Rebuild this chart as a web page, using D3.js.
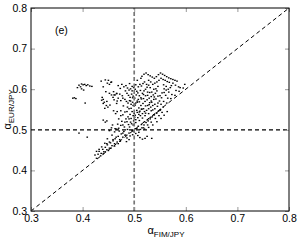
<!DOCTYPE html>
<html><head><meta charset="utf-8">
<script src="https://cdn.jsdelivr.net/npm/d3@7"></script>
<style>body{margin:0;background:#fff}svg{display:block}</style></head>
<body><svg id="c" width="299" height="240"></svg>
<script>
const xTicks=[0.3,0.4,0.5,0.6,0.7,0.8];
const yTicks=[0.3,0.4,0.5,0.6,0.7,0.8];
const xLabel="FIM/JPY";
const yLabel="EUR/JPY";
const panelLabel="(e)";
const refLevel=0.5;
// scatter points [alpha_FIM/JPY, alpha_EUR/JPY]
const groupLeft=[[0.381,0.578],[0.384,0.579],[0.387,0.577],[0.390,0.604],[0.393,0.610],[0.396,0.606],[0.398,0.613],[0.401,0.611],[0.404,0.612],[0.407,0.609],[0.410,0.611],[0.414,0.608],[0.418,0.607],[0.402,0.598],[0.405,0.566],[0.398,0.601],[0.393,0.492],[0.409,0.482]];
const groupB=[[0.440,0.606],[0.448,0.615],[0.456,0.618],[0.445,0.594],[0.452,0.590],[0.456,0.586],[0.460,0.594],[0.463,0.586],[0.466,0.590],[0.437,0.573],[0.440,0.565],[0.447,0.570],[0.453,0.561],[0.443,0.553],[0.469,0.578],[0.466,0.565],
[0.459,0.580],[0.461,0.586],[0.466,0.589],[0.472,0.588],[0.477,0.584],[0.478,0.578],[0.474,0.572],[0.467,0.571],[0.461,0.574],
[0.438,0.580],[0.440,0.575],[0.442,0.568],[0.446,0.560],[0.449,0.556],[0.450,0.622],[0.455,0.617],[0.452,0.612],[0.436,0.620],[0.444,0.623]];
const groupC=[[0.476,0.612],[0.480,0.606],[0.484,0.609],[0.487,0.603],[0.490,0.598],[0.493,0.601],[0.496,0.596],[0.499,0.604],[0.502,0.600],[0.505,0.595],[0.508,0.606],[0.511,0.612],[0.514,0.608],[0.517,0.614],[0.520,0.618],[0.486,0.590],[0.489,0.585],[0.492,0.580],[0.495,0.588],[0.498,0.583],[0.501,0.578],[0.504,0.586],[0.507,0.591],[0.510,0.584],[0.513,0.579],[0.516,0.590],[0.519,0.596],[0.522,0.600],[0.525,0.605],[0.528,0.610],[0.482,0.575],[0.485,0.570],[0.488,0.566],[0.491,0.572],[0.494,0.563],[0.497,0.568],[0.500,0.560],[0.503,0.566],[0.506,0.571]];
const groupD=[[0.515,0.632],[0.519,0.637],[0.523,0.640],[0.527,0.636],[0.531,0.633],[0.535,0.630],[0.539,0.627],[0.543,0.631],[0.547,0.636],[0.551,0.640],[0.555,0.637],[0.559,0.634],[0.563,0.631],[0.567,0.628],[0.571,0.626],[0.575,0.624],[0.579,0.622],[0.583,0.620],[0.552,0.627],[0.556,0.624],[0.560,0.622],[0.564,0.619],[0.568,0.617],[0.548,0.622],[0.544,0.618],[0.540,0.615],[0.536,0.612],[0.532,0.618],[0.528,0.622]];
const strand1=[[0.430,0.440],[0.432,0.447],[0.436,0.442],[0.439,0.452],[0.441,0.446],[0.444,0.457],[0.447,0.451],[0.448,0.463],[0.452,0.455],[0.454,0.468],[0.457,0.461],[0.459,0.473],[0.462,0.466],[0.463,0.478],[0.467,0.470],[0.469,0.484],[0.472,0.476],[0.475,0.490],[0.478,0.482],[0.480,0.496],[0.484,0.487],[0.487,0.501],[0.490,0.492],[0.491,0.507],[0.496,0.498],[0.498,0.512],[0.502,0.503],[0.503,0.518],[0.508,0.509],[0.510,0.523],[0.514,0.513],[0.516,0.529],[0.520,0.520],[0.521,0.535],[0.526,0.525],[0.528,0.540],[0.532,0.531],[0.533,0.547],[0.538,0.537],[0.540,0.552],[0.544,0.542],[0.545,0.558],[0.550,0.548],[0.552,0.563],[0.556,0.556],[0.557,0.570],[0.563,0.566],[0.565,0.578],[0.571,0.577],[0.573,0.587],[0.579,0.585],[0.581,0.597],[0.587,0.595],[0.589,0.604],[0.595,0.603],[0.598,0.612],
[0.432,0.452],[0.437,0.458],[0.440,0.441],[0.444,0.446],[0.447,0.466],[0.450,0.449],[0.452,0.470],[0.455,0.455],[0.459,0.476],[0.462,0.460],[0.465,0.482],[0.469,0.466],[0.427,0.447],[0.435,0.436],[0.424,0.438],[0.427,0.430]];
const strand2=[[0.462,0.495],[0.466,0.502],[0.470,0.504],[0.474,0.511],[0.478,0.512],[0.482,0.519],[0.486,0.520],[0.490,0.527],[0.494,0.528],[0.498,0.535],[0.502,0.536],[0.506,0.543],[0.510,0.544],[0.514,0.551],[0.518,0.552],[0.522,0.559],[0.526,0.560],[0.530,0.567],[0.534,0.568],[0.538,0.575],[0.542,0.576],[0.546,0.583],[0.550,0.584],[0.554,0.591],[0.558,0.592],[0.562,0.598],[0.566,0.600],[0.570,0.604]];
const strand3=[[0.470,0.527],[0.474,0.535],[0.478,0.537],[0.482,0.544],[0.486,0.545],[0.490,0.552],[0.494,0.553],[0.498,0.560],[0.502,0.561],[0.506,0.568],[0.510,0.569],[0.514,0.576],[0.518,0.577],[0.522,0.584],[0.526,0.585],[0.530,0.592],[0.534,0.593],[0.538,0.600],[0.542,0.601],[0.546,0.607]];
const blob=[[0.495,0.515],[0.499,0.522],[0.503,0.525],[0.507,0.530],[0.512,0.535],[0.516,0.540],[0.520,0.545],[0.524,0.548],[0.528,0.552],[0.532,0.556],[0.536,0.560],[0.540,0.563],[0.505,0.548],[0.509,0.554],[0.513,0.560],[0.517,0.565],[0.521,0.570],[0.525,0.574],[0.529,0.578],[0.533,0.582],[0.537,0.586],[0.541,0.590],[0.500,0.540],[0.496,0.545],[0.492,0.538],[0.488,0.532],[0.484,0.527],[0.515,0.505],[0.519,0.512],[0.523,0.518],[0.527,0.522],[0.531,0.527],[0.535,0.532],[0.539,0.537],[0.543,0.541],[0.547,0.546],[0.551,0.550],
[0.440,0.524],[0.444,0.519],[0.447,0.522],[0.460,0.547],[0.464,0.540],[0.467,0.545],[0.452,0.498],[0.456,0.505],[0.458,0.512]];
const scattered=[[0.487,0.556],[0.493,0.571],[0.511,0.546],[0.518,0.587],[0.526,0.593],[0.533,0.571],[0.539,0.581],[0.544,0.596],[0.549,0.571],[0.553,0.579],[0.558,0.601],[0.561,0.585],[0.567,0.593],[0.572,0.609],[0.531,0.604],[0.524,0.612],[0.512,0.597],[0.503,0.611],[0.497,0.579],[0.508,0.575],[0.515,0.551],[0.522,0.541],[0.529,0.562],[0.536,0.549],[0.546,0.566],[0.501,0.531],[0.509,0.538],[0.493,0.519],[0.481,0.507],[0.476,0.521],[0.489,0.513],[0.471,0.497],[0.463,0.503],[0.457,0.487],[0.448,0.478],[0.443,0.467],[0.468,0.514],[0.474,0.547],[0.479,0.559],[0.483,0.596],[0.473,0.602],[0.469,0.609],[0.491,0.614],[0.506,0.622],[0.513,0.627],[0.496,0.607],[0.518,0.505],[0.526,0.512],[0.533,0.519],[0.541,0.528],[0.548,0.535],[0.554,0.543],[0.497,0.488],[0.509,0.494],[0.485,0.471],[0.492,0.485],[0.557,0.611],[0.562,0.607],[0.575,0.615],[0.580,0.610],[0.586,0.606]];
const lowerEdge=[[0.478,0.492],[0.482,0.487],[0.486,0.480],[0.490,0.476],[0.499,0.497],[0.503,0.491],[0.507,0.486],[0.511,0.481],[0.516,0.477],[0.521,0.479],[0.525,0.484],[0.534,0.479],[0.505,0.503],[0.512,0.501],[0.520,0.502],[0.528,0.506],[0.536,0.512],[0.544,0.520],[0.552,0.528],[0.558,0.536],[0.564,0.545],[0.473,0.472]];
const points=[].concat(groupLeft,groupB,groupC,groupD,strand1,strand2,strand3,blob,scattered,lowerEdge);

const W=299,H=240,L=31,R=289,T=8,B=211;
const svg=d3.select("#c");
const x=d3.scaleLinear().domain([0.3,0.8]).range([L,R]);
const y=d3.scaleLinear().domain([0.3,0.8]).range([B,T]);
const font="'Liberation Sans', Arial, sans-serif";

// points
svg.append("g").selectAll("rect").data(points).join("rect")
  .attr("x",d=>x(d[0])-0.8).attr("y",d=>y(d[1])-0.6).attr("width",1.6).attr("height",1.3).attr("fill","#000");

// reference lines
svg.append("line").attr("x1",x(0.3)).attr("y1",y(0.3)).attr("x2",x(0.8)).attr("y2",y(0.8))
  .attr("stroke","#000").attr("stroke-width",1).attr("stroke-dasharray","4,3");
svg.append("line").attr("x1",x(0.3)).attr("x2",x(0.8)).attr("y1",y(refLevel)).attr("y2",y(refLevel))
  .attr("stroke","#000").attr("stroke-width",1.2).attr("stroke-dasharray","4,3");
svg.append("line").attr("x1",x(refLevel)).attr("x2",x(refLevel)).attr("y1",y(0.3)).attr("y2",y(0.8))
  .attr("stroke","#777").attr("stroke-width",1.7).attr("stroke-dasharray","4,2.5");

// axes
const fmt=d3.format(".1f");
function style(g){g.select(".domain").remove();g.selectAll("line").attr("stroke","#999");
  g.selectAll("text").attr("font-family",font).attr("font-size",10.5).attr("fill","#000");}
svg.append("g").attr("transform",`translate(0,${B})`)
  .call(d3.axisBottom(x).tickValues(xTicks).tickFormat(fmt).tickSize(-4).tickPadding(4)).call(style);
svg.append("g").attr("transform",`translate(0,${T})`)
  .call(d3.axisTop(x).tickValues(xTicks).tickFormat("").tickSize(-4)).call(style);
svg.append("g").attr("transform",`translate(${L},0)`)
  .call(d3.axisLeft(y).tickValues(yTicks).tickFormat(fmt).tickSize(-4).tickPadding(4)).call(style);
svg.append("g").attr("transform",`translate(${R},0)`)
  .call(d3.axisRight(y).tickValues(yTicks).tickFormat("").tickSize(-4)).call(style);

svg.append("rect").attr("x",L).attr("y",T).attr("width",R-L).attr("height",B-T)
  .attr("fill","none").attr("stroke","#000").attr("stroke-width",1);

// panel label
svg.append("text").attr("x",55).attr("y",34).attr("font-family",font).attr("font-size",10.5).text(panelLabel);

// x label
const xl=svg.append("text").attr("x",166).attr("y",234).attr("text-anchor","middle").attr("font-family",font);
xl.append("tspan").attr("font-size",11).text("α");
xl.append("tspan").attr("font-size",8).attr("dy",3).text(xLabel);

// y label
const yl=svg.append("text").attr("transform",`translate(11,${(T+B)/2}) rotate(-90)`).attr("text-anchor","middle").attr("font-family",font);
yl.append("tspan").attr("font-size",11).text("α");
yl.append("tspan").attr("font-size",8).attr("dy",3).text(yLabel);
</script></body></html>
